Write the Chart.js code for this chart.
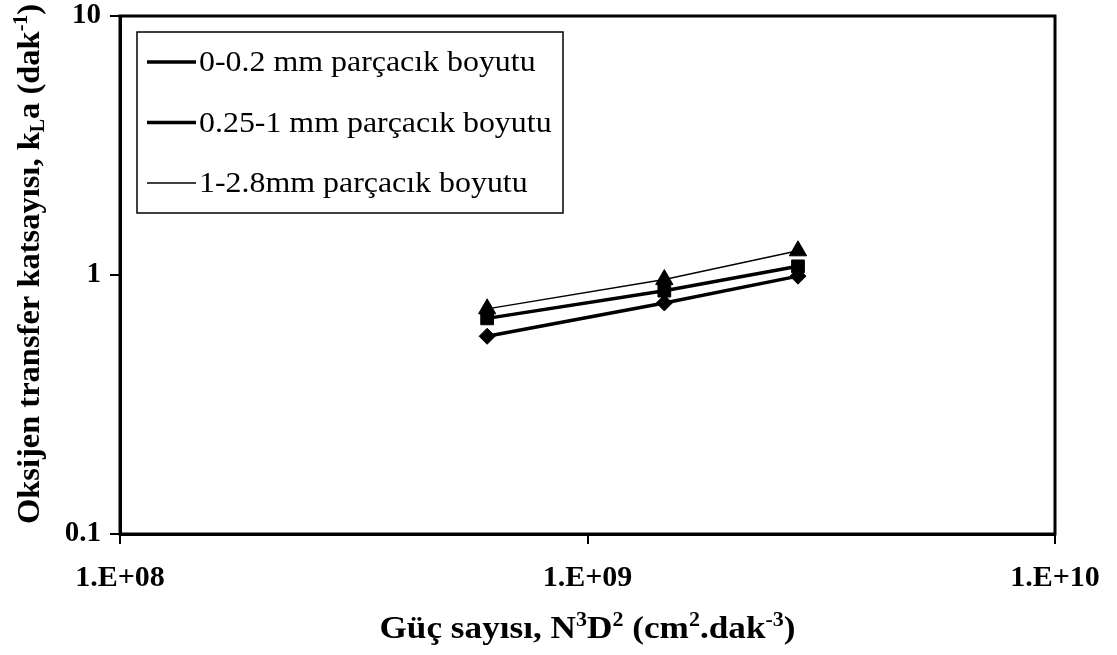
<!DOCTYPE html>
<html>
<head>
<meta charset="utf-8">
<script src="https://cdn.jsdelivr.net/npm/chart.js@4.4.1/dist/chart.umd.min.js"></script>
<style>
  html, body { margin: 0; padding: 0; background: #fff; }
</style>
</head>
<body>
<canvas id="grafik" width="1117" height="655"></canvas>
<script>
// ---- veriler ----
const gucSayisi = [6.1e8, 1.46e9, 2.82e9];
const seriEtiketleri = ['0-0.2 mm parçacık boyutu', '0.25-1 mm parçacık boyutu', '1-2.8mm parçacık boyutu'];
const kla_0_02 = [0.58, 0.78, 0.99];
const kla_025_1 = [0.68, 0.87, 1.08];
const kla_1_28 = [0.74, 0.96, 1.24];
const xTickDegerleri = [1e8, 1e9, 1e10];
const xTickEtiketleri = ['1.E+08', '1.E+09', '1.E+10'];
const yTickDegerleri = [0.1, 1, 10];
const yTickEtiketleri = ['0.1', '1', '10'];

// eksen basliklari (ust/alt simge parcalari)
const yBaslik = [
    { t: 'Oksijen transfer katsayısı, k' }, { t: 'L', alt: true }, { t: 'a (dak' }, { t: '-1', ust: true }, { t: ')' }
];
const xBaslik = [
    { t: 'Güç sayısı, N' }, { t: '3', ust: true }, { t: 'D' }, { t: '2', ust: true },
    { t: ' (cm' }, { t: '2', ust: true }, { t: '.dak' }, { t: '-3', ust: true }, { t: ')' }
];

const FONT = '"Liberation Serif", "Times New Roman", serif';
Chart.defaults.font.family = FONT;
Chart.defaults.color = '#000';

function noktalar(yDegerleri) {
    return gucSayisi.map((x, i) => ({ x: x, y: yDegerleri[i] }));
}

function zenginYazi(ctx, parcalar, x, y, boyut, olcekX) {
    const fontu = p => `bold ${(p.ust || p.alt) ? Math.round(boyut * 0.62) : boyut}px ${FONT}`;
    let toplam = 0;
    parcalar.forEach(p => { ctx.font = fontu(p); toplam += ctx.measureText(p.t).width; });
    ctx.save();
    ctx.translate(x, y);
    ctx.scale(olcekX, 1);
    ctx.textBaseline = 'alphabetic';
    ctx.textAlign = 'left';
    let cx = -toplam / 2;
    parcalar.forEach(p => {
        ctx.font = fontu(p);
        const dy = p.ust ? -boyut * 0.38 : (p.alt ? boyut * 0.14 : 0);
        ctx.fillText(p.t, cx, dy);
        cx += ctx.measureText(p.t).width;
    });
    ctx.restore();
}

const cerceveVeYazilar = {
    id: 'cerceveVeYazilar',
    afterDraw(chart) {
        const { ctx, chartArea: a } = chart;
        ctx.save();
        ctx.fillStyle = '#000';
        ctx.strokeStyle = '#000';

        // grafik cercevesi
        ctx.lineWidth = 3;
        ctx.strokeRect(a.left, a.top, a.right - a.left, a.bottom - a.top);

        // gosterge kutusu
        const lx = 137, ly = 32, lw = 426, lh = 181;
        ctx.lineWidth = 1.5;
        ctx.fillStyle = '#fff';
        ctx.fillRect(lx, ly, lw, lh);
        ctx.strokeRect(lx, ly, lw, lh);
        ctx.fillStyle = '#000';
        chart.data.datasets.forEach((ds, i) => {
            const satirY = ly + 30 + i * 60.5;
            ctx.lineWidth = ds.borderWidth;
            ctx.beginPath();
            ctx.moveTo(lx + 10, satirY);
            ctx.lineTo(lx + 59, satirY);
            ctx.stroke();
            ctx.save();
            ctx.translate(lx + 62, satirY + 9);
            ctx.scale(1.1, 1);
            ctx.font = `29px ${FONT}`;
            ctx.textBaseline = 'alphabetic';
            ctx.fillText(ds.label, 0, 0);
            ctx.restore();
        });

        // eksen basliklari
        zenginYazi(ctx, xBaslik, (a.left + a.right) / 2, 638, 32, 1.1);
        ctx.save();
        ctx.translate(39, 264);
        ctx.rotate(-Math.PI / 2);
        zenginYazi(ctx, yBaslik, 0, 0, 32.5, 1);
        ctx.restore();

        ctx.restore();
    }
};

function seri(etiket, veri, stil, yaricap, kalinlik) {
    return {
        label: etiket,
        data: noktalar(veri),
        showLine: true,
        borderColor: '#000',
        backgroundColor: '#000',
        borderWidth: kalinlik,
        pointStyle: stil,
        pointRadius: yaricap,
        pointBorderWidth: 1,
        pointBackgroundColor: '#000',
        pointBorderColor: '#000'
    };
}

new Chart(document.getElementById('grafik'), {
    type: 'scatter',
    data: {
        datasets: [
            seri(seriEtiketleri[0], kla_0_02, 'rectRot', 8, 3.5),
            seri(seriEtiketleri[1], kla_025_1, 'rect', 9, 3.5),
            seri(seriEtiketleri[2], kla_1_28, 'triangle', 10, 1.5)
        ]
    },
    options: {
        responsive: false,
        animation: false,
        devicePixelRatio: 1,
        layout: { padding: { top: 16, right: 62, left: 0, bottom: 0 } },
        plugins: { legend: { display: false }, tooltip: { enabled: false } },
        scales: {
            x: {
                type: 'logarithmic',
                position: 'bottom',
                min: 1e8,
                max: 1e10,
                afterBuildTicks: s => { s.ticks = xTickDegerleri.map(v => ({ value: v })); },
                afterFit: s => { s.height = 121; s.paddingLeft = 0; s.paddingRight = 0; },
                ticks: {
                    callback: (v, i) => xTickEtiketleri[i],
                    font: { size: 30, weight: 'bold' },
                    color: '#000',
                    padding: 16,
                    maxRotation: 0,
                    autoSkip: false
                },
                grid: { drawOnChartArea: false, drawTicks: true, tickLength: 10, color: '#000', lineWidth: 2 },
                border: { display: true, color: '#000', width: 3 }
            },
            y: {
                type: 'logarithmic',
                position: 'left',
                min: 0.1,
                max: 10,
                afterBuildTicks: s => { s.ticks = yTickDegerleri.map(v => ({ value: v })); },
                afterFit: s => { s.width = 120; s.paddingTop = 0; s.paddingBottom = 0; },
                ticks: {
                    callback: (v, i) => yTickEtiketleri[i],
                    font: { size: 29, weight: 'bold' },
                    color: '#000',
                    padding: 9,
                    autoSkip: false
                },
                grid: { drawOnChartArea: false, drawTicks: true, tickLength: 10, color: '#000', lineWidth: 2 },
                border: { display: true, color: '#000', width: 3 }
            }
        }
    },
    plugins: [cerceveVeYazilar]
});
</script>
</body>
</html>
